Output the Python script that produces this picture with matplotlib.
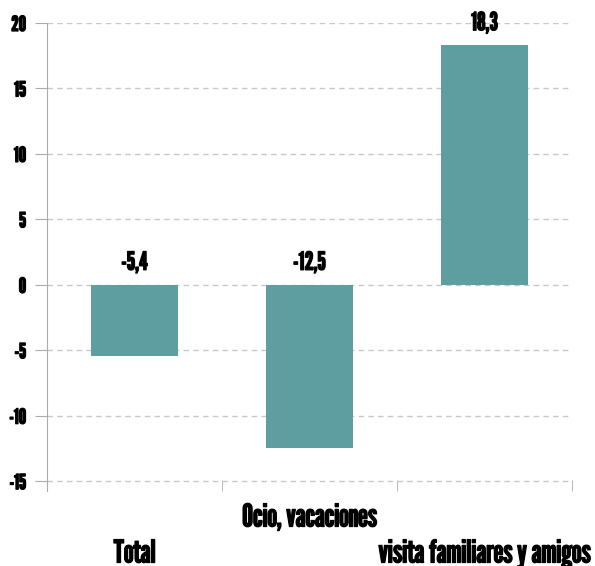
import matplotlib.pyplot as plt
import matplotlib as mpl
import matplotlib.patheffects as pe

categories = ['Total', 'Ocio, vacaciones', 'visita familiares y amigos']
values = [-5.4, -12.5, 18.3]
value_labels = ['-5,4', '-12,5', '18,3']
yticks = [-15, -10, -5, 0, 5, 10, 15, 20]

BAR_COLOR = '#5F9EA0'
GRID_COLOR = '#C8C8C8'
AXIS_COLOR = '#ABABAB'

mpl.rcParams['font.family'] = ['League Gothic', 'DejaVu Sans']
# League Gothic has no bold face, so thicken strokes a little
BOLD = [pe.withStroke(linewidth=0.9, foreground='black')]

W, H = 595, 566
fig = plt.figure(figsize=(W / 100, H / 100), dpi=100)
ax = fig.add_axes([47 / W, 1 - 491 / H, (572 - 47) / W, (491 - 23) / H])

xs = list(range(len(categories)))
ax.bar(xs, values, width=0.5, color=BAR_COLOR, zorder=3)

for x, v, lab in zip(xs, values, value_labels):
    ax.annotate(lab, (x, max(v, 0)), textcoords='offset pixels', xytext=(0, 10),
                ha='center', va='bottom', fontsize=18, path_effects=BOLD)

ax.set_xlim(-0.5, len(categories) - 0.5)
ax.set_ylim(-15.75, 20)
ax.set_yticks(yticks)
ax.set_yticklabels([str(t) for t in yticks])
ax.grid(axis='y', color=GRID_COLOR, linestyle=(0, (4, 3)), linewidth=1, zorder=0)

for s in ('top', 'right', 'bottom'):
    ax.spines[s].set_visible(False)
ax.spines['left'].set_color(AXIS_COLOR)
ax.spines['left'].set_bounds(-15.75, 20)
ax.tick_params(axis='y', length=9, color=AXIS_COLOR, labelsize=15, pad=6)
for t in ax.get_yticklabels():
    t.set_path_effects(BOLD)

# category boundary ticks along the bottom
ax.set_xticks([0.5, 1.5, 2.5], minor=True)
ax.tick_params(axis='x', which='minor', direction='in', length=8, color=AXIS_COLOR)
ax.set_xticks(xs)
ax.set_xticklabels([])
ax.tick_params(axis='x', which='major', length=0)

# staggered category labels
offsets = [63, 27, 63]
for x, lab, off in zip(xs, categories, offsets):
    ax.annotate(lab, (x, -15.75), textcoords='offset pixels', xytext=(0, -off),
                ha='center', va='center', fontsize=22.5, path_effects=BOLD,
                annotation_clip=False)

fig.savefig('out.png', dpi=100)
